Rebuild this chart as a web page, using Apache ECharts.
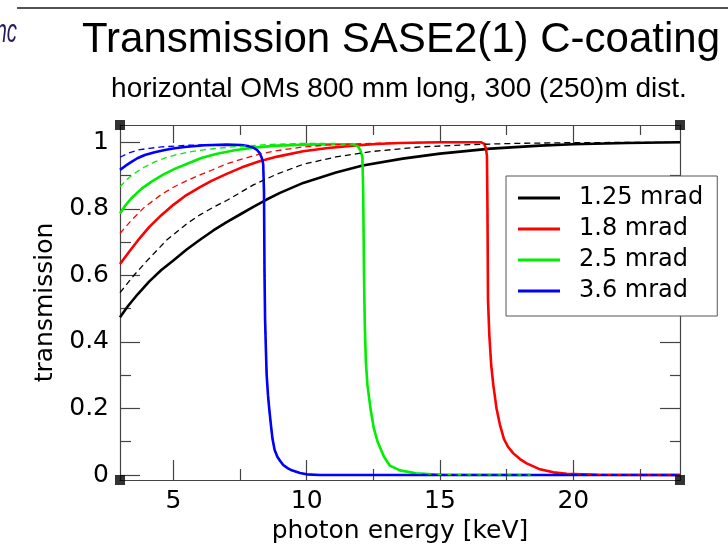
<!DOCTYPE html>
<html>
<head>
<meta charset="utf-8">
<script src="https://cdn.jsdelivr.net/npm/echarts@6/dist/echarts.min.js"></script>
<style>
  html, body { margin: 0; padding: 0; background: #fff; }
  #chart { width: 728px; height: 556px; }
</style>
</head>
<body>
<div id="chart"></div>
<script>
// Axis extents and tick positions
const X_MIN = 3, X_MAX = 24;
const Y_MIN = -0.015, Y_MAX = 1.052;
const xMajorTicks = [5, 10, 15, 20];
const xMinorTicks = [7.5, 12.5, 17.5, 22.5];
const yMajorTicks = [0, 0.2, 0.4, 0.6, 0.8, 1];
const yMinorTicks = [0.1, 0.3, 0.5, 0.7, 0.9];

const legendNames = ['1.25 mrad', '1.8 mrad', '2.5 mrad', '3.6 mrad'];
const seriesColors = ['#000000', '#ff0000', '#00ee00', '#0000ff'];

// 1.25 mrad: no cut-off inside the energy range
const black300 = [[3.0,0.474],[3.3,0.508],[3.67,0.544],[4.1,0.582],[4.55,0.616],[5.0,0.645],[5.5,0.678],[6.0,0.707],[6.5,0.735],[7.0,0.76],[7.5,0.783],[8.0,0.806],[8.5,0.828],[9.0,0.848],[9.87,0.878],[11.1,0.909],[12.1,0.93],[13.6,0.951],[15.0,0.966],[16.9,0.981],[18.75,0.99],[20.0,0.994],[22.0,0.998],[24.0,1.0]];
const black250 = [[3.0,0.548],[3.5,0.598],[4.0,0.643],[4.75,0.706],[5.5,0.755],[6.0,0.782],[6.5,0.805],[7.0,0.825],[8.0,0.872],[8.9,0.905],[9.87,0.934],[11.1,0.956],[12.4,0.972],[14.25,0.986],[16.1,0.993],[18.0,0.997],[20.0,0.999],[24.0,1.0]];

// 1.8 mrad
const red300Head = [[3.0,0.634],[3.35,0.672],[3.67,0.705],[4.1,0.746],[4.55,0.781],[5.0,0.812],[5.43,0.838],[6.0,0.865],[6.43,0.884],[7.0,0.905],[7.55,0.924],[8.2,0.942],[8.9,0.957],[9.87,0.973],[10.8,0.983],[11.75,0.99],[12.6,0.995],[13.5,0.998],[15.0,1.0]];
const red250Head = [[3.0,0.726],[3.43,0.766],[3.93,0.806],[4.55,0.843],[5.0,0.865],[5.43,0.882],[6.0,0.902],[6.43,0.916],[7.0,0.935],[7.68,0.952],[8.2,0.964],[8.8,0.974],[9.87,0.986],[10.8,0.992],[11.75,0.995],[13.5,0.999],[15.0,1.0]];
const redCutoff = [[16.55,1.0],[16.66,0.995],[16.72,0.982],[16.76,0.96],[16.78,0.8],[16.8,0.527],[16.85,0.42],[16.92,0.33],[17.0,0.27],[17.12,0.2],[17.25,0.15],[17.4,0.108],[17.55,0.085],[17.75,0.065],[18.0,0.048],[18.25,0.035],[18.75,0.017],[19.25,0.008],[19.75,0.004],[20.9,0.001],[24.0,0.0]];

// 2.5 mrad
const green300Head = [[3.0,0.786],[3.2,0.81],[3.43,0.832],[3.8,0.86],[4.17,0.881],[4.6,0.902],[5.05,0.92],[5.5,0.935],[6.05,0.953],[6.6,0.965],[7.3,0.976],[8.0,0.984],[8.9,0.99],[10.0,0.993],[11.0,0.994]];
const green250Head = [[3.0,0.866],[3.25,0.888],[3.55,0.907],[3.9,0.925],[4.3,0.941],[4.7,0.953],[5.17,0.964],[5.6,0.971],[6.18,0.978],[7.3,0.987],[8.68,0.994],[10.0,0.997],[11.0,0.997]];
const greenCutoff = [[11.75,0.994],[11.92,0.988],[12.02,0.975],[12.09,0.955],[12.12,0.85],[12.15,0.6],[12.18,0.45],[12.22,0.34],[12.28,0.27],[12.4,0.196],[12.52,0.14],[12.66,0.1],[12.9,0.055],[13.12,0.028],[13.5,0.014],[14.1,0.005],[15.0,0.001],[18.4,0.0]];

// 3.6 mrad
const blue300Head = [[3.0,0.917],[3.2,0.929],[3.43,0.941],[3.65,0.952],[3.93,0.962],[4.3,0.97],[4.68,0.977],[5.05,0.982],[5.43,0.986],[6.18,0.991],[7.0,0.993],[7.55,0.992]];
const blue250Head = [[3.0,0.955],[3.3,0.967],[3.67,0.977],[4.1,0.982],[4.55,0.986],[5.5,0.991],[6.5,0.993],[7.55,0.993]];
const blueCutoff = [[7.8,0.989],[8.0,0.984],[8.15,0.976],[8.25,0.966],[8.32,0.952],[8.37,0.935],[8.4,0.85],[8.42,0.6],[8.44,0.47],[8.47,0.38],[8.5,0.3],[8.55,0.24],[8.6,0.196],[8.66,0.15],[8.72,0.108],[8.8,0.075],[8.9,0.055],[9.0,0.043],[9.12,0.03],[9.3,0.02],[9.44,0.014],[9.75,0.006],[10.0,0.002],[10.5,0.0],[24.0,0.0]];

const solidSets = [black300, red300Head.concat(redCutoff), green300Head.concat(greenCutoff), blue300Head.concat(blueCutoff)];
const dashedSets = [black250, red250Head.concat(redCutoff), green250Head.concat(greenCutoff), blue250Head.concat(blueCutoff)];

const CHART_FONT = '"DejaVu Sans", sans-serif';
const TITLE_FONT = '"Liberation Sans", Arial, sans-serif';
const AXIS_COLOR = '#444';

function xAxisDef(position, ticks, len, main) {
  return {
    type: 'value', position: position, min: X_MIN, max: X_MAX,
    axisLine: { show: main, onZero: false, lineStyle: { color: AXIS_COLOR, width: 1.2 } },
    axisTick: { show: true, inside: true, length: len, customValues: ticks, lineStyle: { color: AXIS_COLOR, width: 1.2 } },
    axisLabel: {
      show: main && position === 'bottom', customValues: ticks, margin: 9,
      color: '#000', fontSize: 25, fontFamily: CHART_FONT
    },
    splitLine: { show: false },
    name: main && position === 'bottom' ? 'photon energy [keV]' : '',
    nameLocation: 'middle', nameGap: 39,
    nameTextStyle: { color: '#000', fontSize: 25, fontFamily: CHART_FONT }
  };
}

function yAxisDef(position, ticks, len, main) {
  return {
    type: 'value', position: position, min: Y_MIN, max: Y_MAX,
    axisLine: { show: main, onZero: false, lineStyle: { color: AXIS_COLOR, width: 1.2 } },
    axisTick: { show: true, inside: true, length: len, customValues: ticks, lineStyle: { color: AXIS_COLOR, width: 1.2 } },
    axisLabel: {
      show: main && position === 'left', customValues: ticks, margin: 11,
      color: '#000', fontSize: 25, fontFamily: CHART_FONT,
      formatter: v => String(Math.round(v * 10) / 10)
    },
    splitLine: { show: false },
    name: main && position === 'left' ? 'transmission' : '',
    nameLocation: 'middle', nameRotate: 90, nameGap: 56,
    nameTextStyle: { color: '#000', fontSize: 25, fontFamily: CHART_FONT }
  };
}

const series = [];
solidSets.forEach((data, i) => {
  series.push({
    name: legendNames[i], type: 'line', data: data, showSymbol: false, symbol: 'none',
    color: seriesColors[i], lineStyle: { color: seriesColors[i], width: 2.6 },
    xAxisIndex: 0, yAxisIndex: 0, z: 3
  });
});
dashedSets.forEach((data, i) => {
  series.push({
    name: legendNames[i] + ' (250 m)', type: 'line', data: data, showSymbol: false, symbol: 'none',
    color: seriesColors[i], lineStyle: { color: seriesColors[i], width: 1.3, type: [6, 4] },
    xAxisIndex: 0, yAxisIndex: 0, z: 4
  });
});
// frame corner markers
series.push({
  name: 'frame', type: 'scatter', symbol: 'rect', symbolSize: 10, clip: false, silent: true,
  itemStyle: { color: '#000' }, z: 6,
  data: [[X_MIN, Y_MAX], [X_MAX, Y_MAX], [X_MIN, Y_MIN], [X_MAX, Y_MIN]]
});

const chart = echarts.init(document.getElementById('chart'), null, { renderer: 'canvas' });
chart.setOption({
  animation: false,
  backgroundColor: '#ffffff',
  grid: { left: 120, right: 48, top: 125, bottom: 76, containLabel: false },
  xAxis: [
    xAxisDef('bottom', xMajorTicks, 20, true),
    xAxisDef('bottom', xMinorTicks, 11, false),
    xAxisDef('top', xMajorTicks, 18, true),
    xAxisDef('top', xMinorTicks, 10, false)
  ],
  yAxis: [
    yAxisDef('left', yMajorTicks, 20, true),
    yAxisDef('left', yMinorTicks, 11, false),
    yAxisDef('right', yMajorTicks, 20, true),
    yAxisDef('right', yMinorTicks, 10, false)
  ],
  legend: {
    data: legendNames, orient: 'vertical', left: 506, top: 176,
    padding: [9, 14, 12, 12], itemGap: 5, itemWidth: 42, itemHeight: 3,
    icon: 'rect', backgroundColor: '#fff', borderColor: '#555', borderWidth: 1,
    selectedMode: false,
    textStyle: { color: '#000', fontSize: 24, fontFamily: CHART_FONT, lineHeight: 26, padding: [0, 0, 0, 14] }
  },
  graphic: [
    { type: 'line', shape: { x1: 17, y1: 8, x2: 728, y2: 8 }, style: { stroke: '#1a1a1a', lineWidth: 1.5 } },
    { type: 'text', x: 17, y: 33, scaleX: 0.6, style: { text: 'nc', font: 'italic 34px ' + TITLE_FONT, fill: '#2a1b5f', textAlign: 'right', textVerticalAlign: 'middle' } },
    { type: 'text', x: 401, y: 40, style: { text: 'Transmission SASE2(1) C-coating', font: '42px ' + TITLE_FONT, fill: '#000', textAlign: 'center', textVerticalAlign: 'middle' } },
    { type: 'text', x: 399, y: 89, style: { text: 'horizontal OMs 800 mm long, 300 (250)m dist.', font: '28px ' + TITLE_FONT, fill: '#000', textAlign: 'center', textVerticalAlign: 'middle' } }
  ],
  series: series
});
</script>
</body>
</html>
